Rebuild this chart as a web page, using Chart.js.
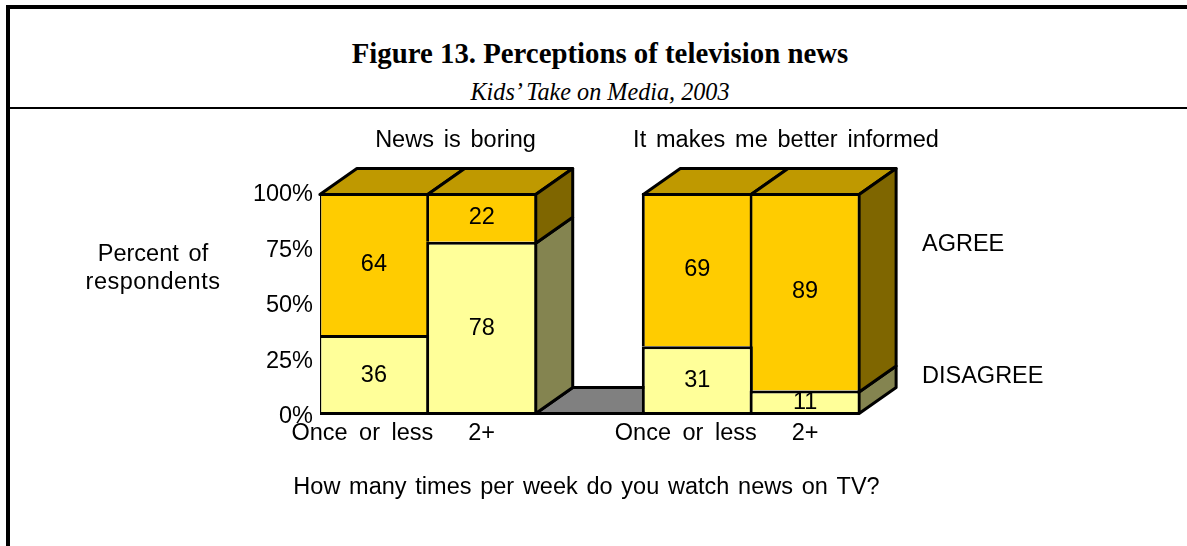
<!DOCTYPE html>
<html>
<head>
<meta charset="utf-8">
<script src="https://cdn.jsdelivr.net/npm/chart.js@4"></script>
<style>
html, body { margin: 0; padding: 0; background: #fff; overflow: hidden; }
#frame { position: absolute; left: 6px; top: 5px; width: 1181px; height: 541px; box-sizing: border-box;
         border-left: 4px solid #000; border-top: 4px solid #000; }
#rule { position: absolute; left: 10px; top: 107px; width: 1177px; height: 2px; background: #000; }
.head { position: absolute; left: 0; width: 1200px; text-align: center; font-family: "Liberation Serif"; color: #000; white-space: nowrap; }
#title { top: 37px; font-size: 28.8px; font-weight: bold; }
#sub { top: 78px; font-size: 24.2px; font-style: italic; }
canvas { position: absolute; left: 0; top: 0; }
</style>
</head>
<body>
<div id="frame"></div>
<div id="rule"></div>
<div class="head" id="title">Figure 13. Perceptions of television news</div>
<div class="head" id="sub">Kids’ Take on Media, 2003</div>
<canvas id="canvas1" width="1187" height="546"></canvas>
<script>
var categories = ["Once or less", "2+", "", "Once or less", "2+"];
var disagree = [36, 78, null, 31, 11];
var agree = [64, 22, null, 69, 89];
var yTicks = [0, 25, 50, 75, 100];
var panels = ["News is boring", "It makes me better informed"];

var DX = 37, DY = 26;
var LW = 3;
var BAR_PCT = 1.03;
var fontSize = 23.5;
var textFont = fontSize + 'px "Liberation Sans"';

function face(ctx, pts, fill){
    ctx.beginPath();
    ctx.moveTo(pts[0][0], pts[0][1]);
    for(var i = 1; i < pts.length; i++) ctx.lineTo(pts[i][0], pts[i][1]);
    ctx.closePath();
    ctx.fillStyle = fill;
    ctx.fill();
    ctx.lineWidth = LW;
    ctx.strokeStyle = "#000";
    ctx.lineJoin = "round";
    ctx.stroke();
}

function lastInBlock(i){
    return i + 1 >= categories.length || disagree[i + 1] === null;
}

// 3d sides, floor and the loose text
var extras = {
    id: 'extras',
    beforeDraw: function(chart){
        // the x tick labels have wide word gaps
        chart.ctx.wordSpacing = '5px';
    },
    beforeDatasetsDraw: function(chart){
        var ctx = chart.ctx, x = chart.scales.x, y = chart.scales.y;
        var half = (x.getPixelForValue(1) - x.getPixelForValue(0)) * BAR_PCT / 2;
        var inset = LW / 2;
        // bar borders sit inside the bars, so the faces start on the border centre
        var y0 = y.getPixelForValue(0) - inset, y100 = y.getPixelForValue(100) + inset;
        function leftEdge(i){ return x.getPixelForValue(i) - half + inset; }
        function rightEdge(i){ return x.getPixelForValue(i) + half - inset; }
        ctx.save();
        var gapL = rightEdge(1), gapR = leftEdge(3);
        face(ctx, [[gapL, y0], [gapL + DX, y0 - DY], [gapR + DX, y0 - DY], [gapR, y0]], "#808080");
        categories.forEach(function(c, i){
            if(disagree[i] === null) return;
            var l = leftEdge(i), r = lastInBlock(i) ? rightEdge(i) : leftEdge(i + 1);
            face(ctx, [[l, y100], [l + DX, y100 - DY], [r + DX, y100 - DY], [r, y100]], "#BF9900");
            // only the last bar of a block shows its side
            if(!lastInBlock(i)) return;
            var mid = y.getPixelForValue(disagree[i]) + inset;
            face(ctx, [[r, y0], [r + DX, y0 - DY], [r + DX, mid - DY], [r, mid]], "#848450");
            face(ctx, [[r, mid], [r + DX, mid - DY], [r + DX, y100 - DY], [r, y100]], "#7F6600");
        });
        ctx.restore();
    },
    afterDatasetsDraw: function(chart){
        var ctx = chart.ctx, x = chart.scales.x, y = chart.scales.y;
        ctx.save();
        ctx.font = textFont;
        ctx.fillStyle = "#000";
        ctx.textBaseline = "middle";
        ctx.textAlign = "center";
        ctx.wordSpacing = '3.3px';
        categories.forEach(function(c, i){
            if(disagree[i] === null) return;
            var cx = x.getPixelForValue(i);
            ctx.fillText(String(disagree[i]), cx, y.getPixelForValue(disagree[i] / 2));
            ctx.fillText(String(agree[i]), cx, y.getPixelForValue(disagree[i] + agree[i] / 2));
        });
        ctx.fillText(panels[0], 455.5, 141);
        ctx.fillText(panels[1], 786, 141);
        ctx.fillText("Percent of", 153, 255);
        ctx.letterSpacing = '0.5px';
        ctx.fillText("respondents", 153, 283);
        ctx.letterSpacing = '0px';
        ctx.wordSpacing = '2.2px';
        ctx.fillText("How many times per week do you watch news on TV?", 586.5, 488);
        ctx.textAlign = "left";
        ctx.fillText("AGREE", 922, 245);
        ctx.fillText("DISAGREE", 922, 377);
        ctx.restore();
    }
};

const ctx = document.getElementById('canvas1').getContext('2d');
const myChart = new Chart(ctx, {
    type: 'bar',
    data: {
        labels: categories,
        datasets: [{
            label: 'DISAGREE',
            data: disagree,
            backgroundColor: "#FFFF99",
            borderColor: "#000",
            borderWidth: { top: LW, left: LW, bottom: LW, right: LW },
            borderSkipped: false
        }, {
            label: 'AGREE',
            data: agree,
            backgroundColor: "#FFCC00",
            borderColor: "#000",
            borderWidth: function(c){
                return { top: LW, left: LW, bottom: 0, right: lastInBlock(c.dataIndex) ? LW : 0 };
            },
            borderSkipped: false
        }]
    },
    options: {
        responsive: false,
        animation: false,
        layout: { padding: { left: 240, right: 328, top: 193, bottom: 0 } },
        datasets: { bar: { barPercentage: BAR_PCT, categoryPercentage: 1 } },
        scales: {
            x: {
                stacked: true,
                grid: { display: false, drawTicks: false },
                border: { display: false },
                afterFit: function(scale){ scale.height = 131; },
                ticks: {
                    autoSkip: false,
                    maxRotation: 0,
                    padding: 4,
                    color: "#000",
                    font: { family: "Liberation Sans", size: fontSize },
                    callback: function(v, i){
                        return categories[i] == "Once or less" ? categories[i] + "\u00a0\u00a0" : categories[i];
                    }
                }
            },
            y: {
                stacked: true,
                min: 0,
                max: 100,
                grid: { display: false, drawTicks: false },
                border: { display: false },
                afterFit: function(scale){ scale.width = 80; },
                afterBuildTicks: function(scale){
                    scale.ticks = yTicks.map(function(v){ return { value: v }; });
                },
                ticks: {
                    padding: 7,
                    labelOffset: 2,
                    color: "#000",
                    font: { family: "Liberation Sans", size: fontSize },
                    callback: function(v){ return v + '%'; }
                }
            }
        },
        plugins: {
            legend: { display: false },
            tooltip: { enabled: false }
        }
    },
    plugins: [extras]
});
</script>
</body>
</html>
